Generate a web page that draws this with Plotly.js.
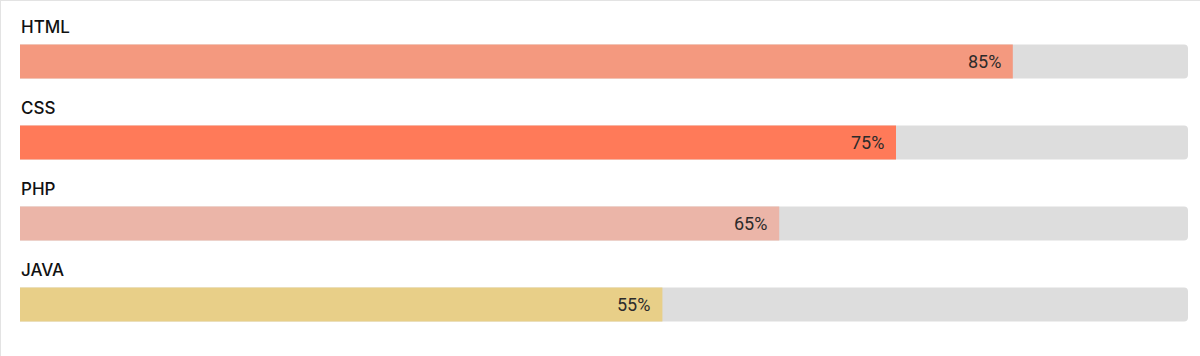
<!DOCTYPE html>
<html>
<head>
<meta charset="utf-8">
<script src="https://cdn.plot.ly/plotly-3.0.1.min.js"></script>
<style>
  html, body { margin: 0; padding: 0; background: #ffffff; }
  #wrap { width: 1200px; height: 356px; box-sizing: border-box; border-top: 1px solid #e3e3e3; border-left: 1px solid #e3e3e3; overflow: hidden; }
  #chart { width: 1199px; height: 355px; }
</style>
</head>
<body>
<div id="wrap"><div id="chart"></div></div>
<script>
const skills = ["HTML", "CSS", "PHP", "JAVA"];
const levels = [85, 75, 65, 55];
const fullScale = [100, 100, 100, 100];
const barColors = ["#f4997f", "#ff7a59", "#ebb5a8", "#e8cf88"];
const valueLabels = levels.map(v => v + "%");

const traces = [
  {
    type: "bar", orientation: "h", y: skills, x: fullScale,
    marker: { color: "#dddddd", cornerradius: 4 },
    hoverinfo: "skip", showlegend: false
  },
  {
    type: "bar", orientation: "h", y: skills, x: levels,
    marker: { color: barColors, cornerradius: 4 },
    hoverinfo: "skip", showlegend: false
  }
];

const annotations = [];
skills.forEach((s, i) => {
  annotations.push({
    x: 0, y: s, xref: "x", yref: "y", text: s, showarrow: false,
    xanchor: "left", yanchor: "middle", yshift: 35, xshift: -1,
    font: { family: "Inter, 'Open Sans', sans-serif", size: 17, weight: 500, color: "#111111" }
  });
  annotations.push({
    x: levels[i], y: s, xref: "x", yref: "y", text: valueLabels[i], showarrow: false,
    xanchor: "right", yanchor: "middle", xshift: -10, yshift: 0,
    font: { family: "Roboto, sans-serif", size: 18, weight: 400, color: "#2b2b2b" }
  });
});

const layout = {
  width: 1199, height: 355,
  margin: { l: 19, r: 12, t: 20, b: 11, pad: 0 },
  paper_bgcolor: "#ffffff", plot_bgcolor: "#ffffff",
  barmode: "overlay", bargap: 0.58,
  xaxis: { range: [0, 100], visible: false, fixedrange: true },
  yaxis: { type: "category", range: [3.5, -0.5], autorange: false, visible: false, fixedrange: true },
  annotations: annotations,
  showlegend: false
};

Plotly.newPlot("chart", traces, layout, { displayModeBar: false, staticPlot: true });
</script>
</body>
</html>
